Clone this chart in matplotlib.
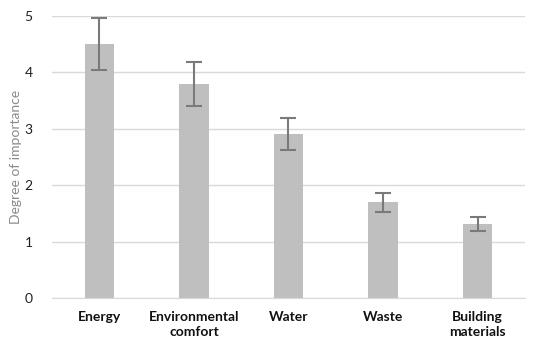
import matplotlib
matplotlib.use("Agg")
import matplotlib.pyplot as plt
import numpy as np

categories = ["Energy", "Environmental\ncomfort", "Water", "Waste", "Building\nmaterials"]
importance = [4.51, 3.8, 2.91, 1.7, 1.31]
errors = [0.46, 0.39, 0.29, 0.17, 0.13]
y_ticks = [0, 1, 2, 3, 4, 5]

plt.rcParams['font.family'] = ['Lato', 'DejaVu Sans']

fig = plt.figure(figsize=(5.5, 3.52), dpi=100)
ax = fig.add_axes([0.0945, 0.1534, 0.86, 0.801])

x = np.arange(len(categories))
ax.bar(x, importance, width=0.31, color='#bfbfbf', zorder=2,
       yerr=errors, ecolor='#7a7a7a', capsize=6,
       error_kw={'elinewidth': 1.5, 'capthick': 1.5})

ax.set_xlim(-0.5, len(categories) - 0.5)
ax.set_ylim(0, 5)
ax.set_yticks(y_ticks)
ax.set_yticklabels([str(t) for t in y_ticks], fontsize=10, color='#222222')
ax.set_xticks(x)
ax.set_xticklabels(categories, fontsize=10, fontweight='bold', color='#111111',
                   multialignment='center', linespacing=1.35)
ax.tick_params(axis='both', length=0)
ax.tick_params(axis='x', pad=9)
ax.tick_params(axis='y', pad=14)

ax.grid(axis='y', color='#d9d9d9', linewidth=1, zorder=0)
for s in ['top', 'right', 'left']:
    ax.spines[s].set_visible(False)
ax.spines['bottom'].set_color('#d9d9d9')

ax.set_ylabel("Degree of importance", fontsize=10, color='#8a8a8a')
ax.yaxis.set_label_coords(-0.064, 0.5)

fig.savefig("out.png", dpi=100)
